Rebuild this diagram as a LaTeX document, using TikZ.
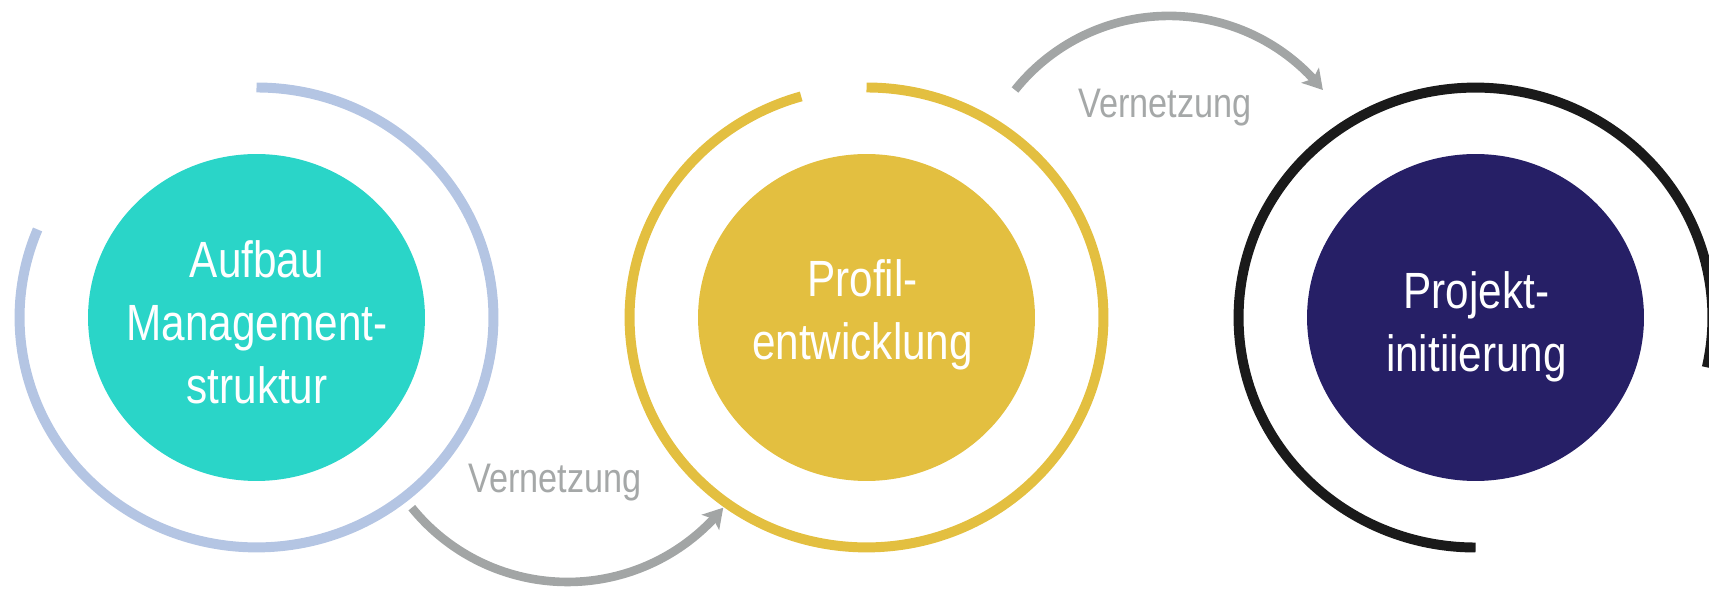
\documentclass[tikz,border=0pt]{standalone}
\usepackage{fontspec}
\setmainfont{Liberation Sans}[FakeStretch=0.83]
\usetikzlibrary{shapes.geometric,arrows.meta,bending}
\definecolor{ringblue}{RGB}{180,197,227}
\definecolor{turq}{RGB}{42,213,200}
\definecolor{mustard}{RGB}{227,191,64}
\definecolor{deepnavy}{RGB}{38,31,102}
\definecolor{ringdark}{RGB}{26,26,26}
\definecolor{flowgray}{RGB}{162,165,165}
\definecolor{labelgray}{RGB}{165,168,168}

\begin{document}
\begin{tikzpicture}[x=0.02cm,y=0.02cm,
  disc/.style={ellipse, minimum width=6.74cm, minimum height=6.54cm, inner sep=0pt},
  ring/.style={line width=5.67pt},
  title/.style={text=white, align=center, inner sep=0pt, font=\fontsize{29}{36}\selectfont},
  flow/.style={draw=flowgray, line width=4.9pt, -{Stealth[length=11pt,width=13pt,inset=2.5pt]}},
  vlabel/.style={text=labelgray, anchor=base, inner sep=0pt, font=\fontsize{23.5}{28}\selectfont}]
\clip (0,0) rectangle (1709,588);

% filled discs
\node[disc, fill=turq]     (c1) at (256.5,270.5) {};
\node[disc, fill=mustard]  (c2) at (866.5,270.5) {};
\node[disc, fill=deepnavy] (c3) at (1475.5,270.5) {};

% open rings around the discs
\draw[ring, draw=ringblue] (c1.center) ++(0,230)
  arc[start angle=90, end angle=-202.5, x radius=4.74cm, y radius=4.6cm];
\draw[ring, draw=mustard] (c2.center) ++(0,230)
  arc[start angle=90, end angle=-254, x radius=4.74cm, y radius=4.6cm];
\draw[ring, draw=ringdark] (c3.center) ++(0,-230)
  arc[start angle=270, end angle=-12.5, x radius=4.74cm, y radius=4.6cm];

% disc titles
\node[title] (t1) at (257,265.6) {Aufbau\\Management-\\struktur};
\node[title] (t2) at (862.5,273.3) {Profil-\\entwicklung};
\node[title] (t3) at (1476.5,261.3) {Projekt-\\initiierung};

% networking arrows between the stages
\coordinate (v1s) at (411.8,80.3);
\coordinate (v2s) at (1015,498);
\draw[flow] (v1s) arc[start angle=219, end angle=321, radius=4.008cm];
\draw[flow] (v2s) arc[start angle=141.4, end angle=38.6, radius=3.94cm];

\node[vlabel] (l1) at (555,95) {Vernetzung};
\node[vlabel] (l2) at (1165,470) {Vernetzung};
\end{tikzpicture}
\end{document}
